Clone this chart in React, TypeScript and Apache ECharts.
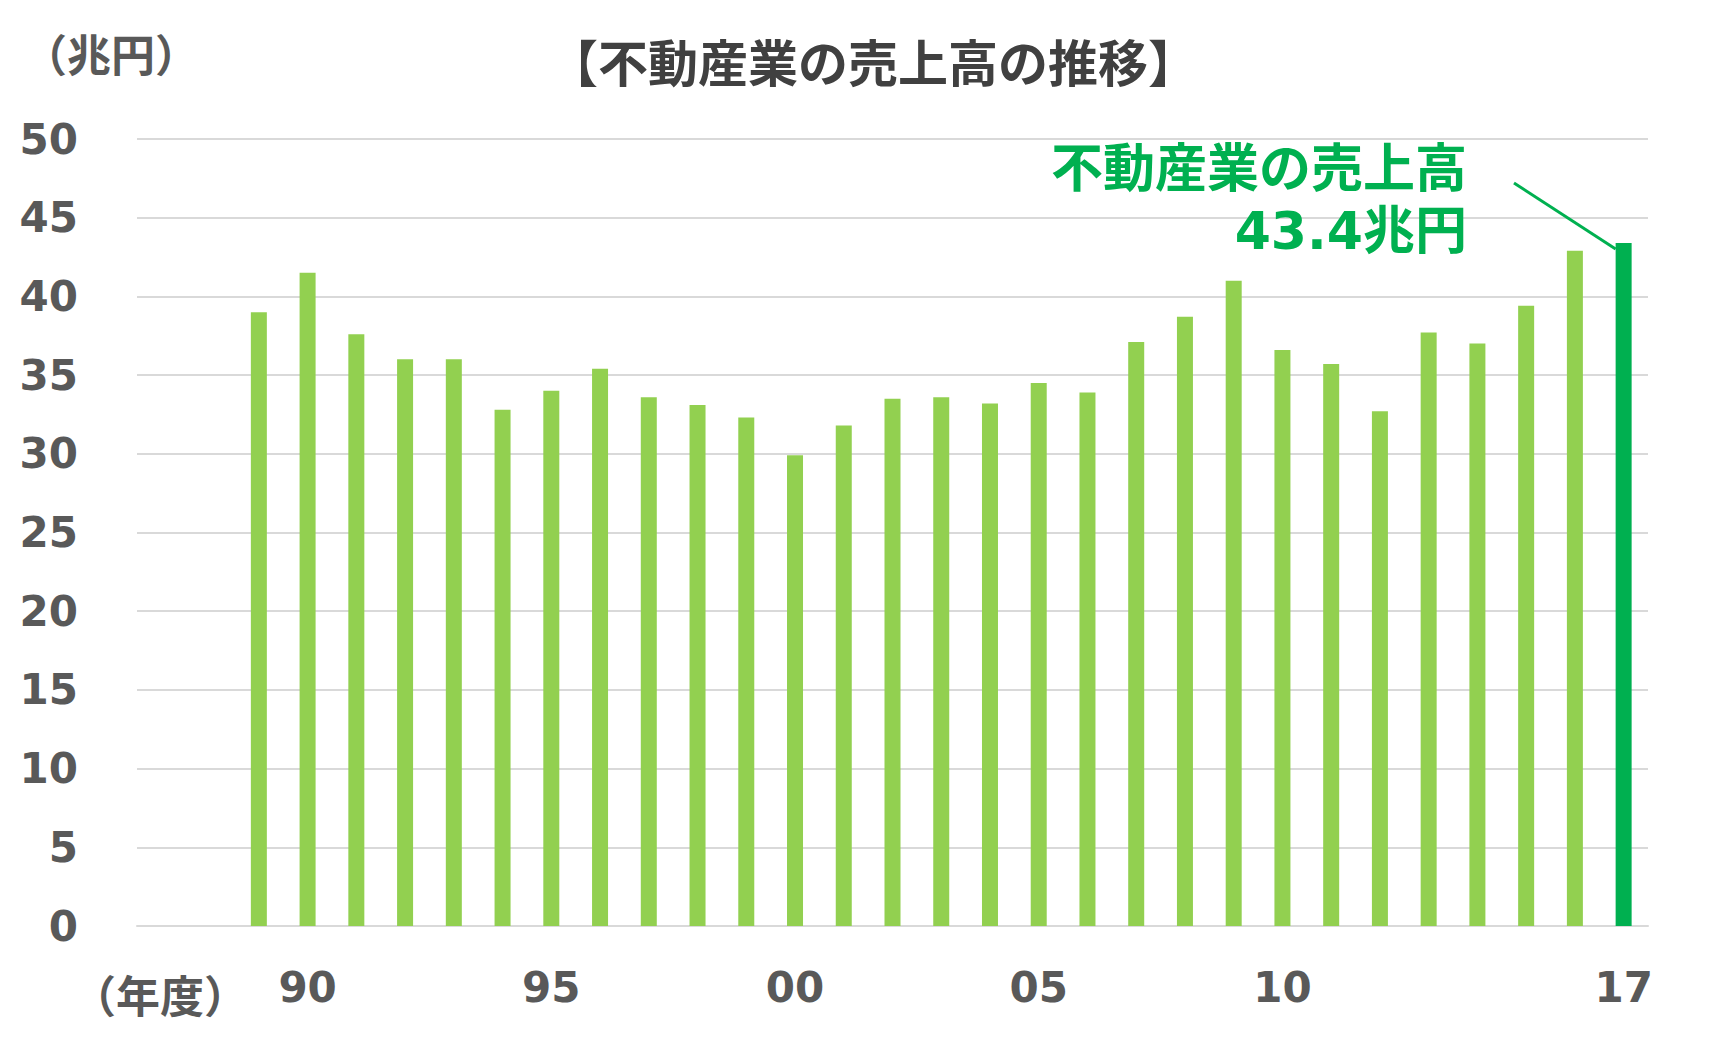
import React, { useEffect, useRef } from "react";
import * as echarts from "echarts";

const years = [
  "1987", "1988", "1989", "1990", "1991", "1992", "1993", "1994", "1995", "1996",
  "1997", "1998", "1999", "2000", "2001", "2002", "2003", "2004", "2005", "2006",
  "2007", "2008", "2009", "2010", "2011", "2012", "2013", "2014", "2015", "2016", "2017",
];
const sales = [
  null, null, 39.0, 41.5, 37.6, 36.0, 36.0, 32.8, 34.0, 35.4,
  33.6, 33.1, 32.3, 29.9, 31.8, 33.5, 33.6, 33.2, 34.5, 33.9,
  37.1, 38.7, 41.0, 36.6, 35.7, 32.7, 37.7, 37.0, 39.4, 42.9, 43.4,
];
const labelYears = ["1990", "1995", "2000", "2005", "2010", "2017"];
const tickLabels = ["90", "95", "00", "05", "10", "17"];
const highlightYear = "2017";
const titleText = "【不動産業の売上高の推移】";
const unitText = "（兆円）";
const yearUnitText = "（年度）";
const noteLine1 = "不動産業の売上高";
const noteLine2 = "43.4兆円";

const FONT = "'DejaVu Sans', 'Noto Sans CJK JP', sans-serif";
const GRAY = "#595959";
const LIGHT = "#92D050";
const DARK = "#00B050";
const BAR_W = 16;

export default function App() {
  const ref = useRef<HTMLDivElement>(null);
  useEffect(() => {
    document.body.style.margin = "0";
    const chart = echarts.init(ref.current!, null, { renderer: "svg" });
    const hi = years.indexOf(highlightYear);
    const option: any = {
      animation: false,
      backgroundColor: "#ffffff",
      grid: { left: 137, right: 86, top: 139, bottom: 111, containLabel: false, outerBoundsMode: "none" },
      xAxis: {
        type: "category",
        data: years,
        axisTick: { show: false },
        axisLine: { lineStyle: { color: "#D9D9D9", width: 2 } },
        axisLabel: {
          interval: 0,
          margin: 40,
          color: GRAY,
          fontSize: 42,
          fontWeight: "bold",
          fontFamily: FONT,
          formatter: (v: string) => {
            const k = labelYears.indexOf(v);
            return k >= 0 ? tickLabels[k] : "";
          },
        },
      },
      yAxis: {
        type: "value",
        min: 0,
        max: 50,
        interval: 5,
        axisLine: { show: false },
        axisTick: { show: false },
        splitLine: { lineStyle: { color: "#D9D9D9", width: 2 } },
        axisLabel: { margin: 59, color: GRAY, fontSize: 42, fontWeight: "bold", fontFamily: FONT },
      },
      series: [
        {
          type: "bar",
          barWidth: BAR_W,
          itemStyle: { color: LIGHT },
          data: sales.map((v, i) => (i === hi ? { value: v, itemStyle: { color: DARK } } : v)),
        },
      ],
    };
    chart.setOption(option);
    const p = chart.convertToPixel({ seriesIndex: 0 }, [highlightYear, sales[hi]]) as number[];
    chart.setOption({
      graphic: [
        {
          type: "text",
          x: 873,
          y: 65,
          style: {
            text: titleText, fill: "#404040", fontSize: 50, fontWeight: "bold", fontFamily: FONT,
            align: "center", verticalAlign: "middle",
          },
        },
        {
          type: "text",
          x: 111,
          y: 56,
          style: {
            text: unitText, fill: GRAY, fontSize: 44, fontWeight: "bold", fontFamily: FONT,
            align: "center", verticalAlign: "middle",
          },
        },
        {
          type: "text",
          x: 160,
          y: 997,
          style: {
            text: yearUnitText, fill: GRAY, fontSize: 44, fontWeight: "bold", fontFamily: FONT,
            align: "center", verticalAlign: "middle",
          },
        },
        {
          type: "text",
          x: 1467,
          y: 169,
          style: {
            text: noteLine1, fill: DARK, fontSize: 52, fontWeight: "bold", fontFamily: FONT,
            align: "right", verticalAlign: "middle",
          },
        },
        {
          type: "text",
          x: 1467,
          y: 231,
          style: {
            text: noteLine2, fill: DARK, fontSize: 52, fontWeight: "bold", fontFamily: FONT,
            align: "right", verticalAlign: "middle",
          },
        },
        {
          type: "line",
          shape: { x1: 1514, y1: 183, x2: p[0] - BAR_W / 2, y2: p[1] + 6 },
          style: { stroke: DARK, lineWidth: 3 },
        },
      ],
    });
    return () => chart.dispose();
  }, []);
  return <div ref={ref} style={{ width: 1734, height: 1037 }} />;
}
